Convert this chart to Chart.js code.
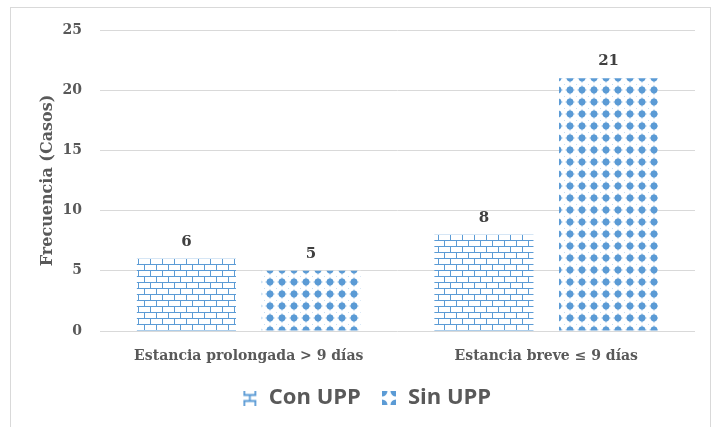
<!DOCTYPE html>
<html><head><meta charset="utf-8">
<script src="https://cdn.jsdelivr.net/npm/chart.js@4"></script>
<style>
html,body{margin:0;padding:0;background:#fff;overflow:hidden}
#frame{position:absolute;left:10px;top:7px;width:701px;height:440px;border:1px solid #d9d9d9;box-sizing:border-box}
#wrap{position:absolute;left:0;top:0;width:715px;height:427px}
</style></head><body>
<div id="frame"></div>
<div id="wrap"><canvas id="c" width="715" height="427"></canvas></div>
<script>
const categories = ["Estancia prolongada > 9 días", "Estancia breve ≤ 9 días"];
const seriesNames = ["Con UPP", "Sin UPP"];
const conUPP = [6, 8];
const sinUPP = [5, 21];
const yTicks = [0, 5, 10, 15, 20, 25];

const BLUE = '#5b9bd5';
function brickTile(){
  const c = document.createElement('canvas'); c.width = 12; c.height = 12;
  const g = c.getContext('2d');
  g.fillStyle = '#fff'; g.fillRect(0,0,12,12);
  g.strokeStyle = BLUE; g.lineWidth = 1;
  g.beginPath();
  g.moveTo(0,0.5); g.lineTo(12,0.5);
  g.moveTo(0,6.5); g.lineTo(12,6.5);
  g.moveTo(0.5,0); g.lineTo(0.5,6);
  g.moveTo(6.5,6); g.lineTo(6.5,12);
  g.stroke();
  return c;
}
function dotTile(){
  const c = document.createElement('canvas'); c.width = 12; c.height = 12;
  const g = c.getContext('2d');
  g.fillStyle = '#fff'; g.fillRect(0,0,12,12);
  g.fillStyle = BLUE;
  g.beginPath(); g.arc(6,6,3.4,0,Math.PI*2); g.fill();
  g.beginPath(); g.moveTo(6,0.8); g.lineTo(7.3,6); g.lineTo(6,11.2); g.lineTo(4.7,6); g.closePath(); g.fill();
  g.beginPath(); g.moveTo(0.8,6); g.lineTo(6,7.3); g.lineTo(11.2,6); g.lineTo(6,4.7); g.closePath(); g.fill();
  g.globalAlpha = 0.35;
  g.fillRect(0,0,1,1);
  return c;
}
const ctx = document.getElementById('c').getContext('2d');
const brickPat = ctx.createPattern(brickTile(), 'repeat');
const dotPat = ctx.createPattern(dotTile(), 'repeat');

function conIcon(){
  const c = document.createElement('canvas'); c.width = 15; c.height = 15;
  const g = c.getContext('2d');
  g.strokeStyle = BLUE; g.lineWidth = 1.8;
  g.beginPath();
  g.moveTo(1,4.5); g.lineTo(14,4.5);
  g.moveTo(1,10.5); g.lineTo(14,10.5);
  g.moveTo(2,0); g.lineTo(2,4.5);
  g.moveTo(13,0); g.lineTo(13,4.5);
  g.moveTo(7.5,4.5); g.lineTo(7.5,10.5);
  g.moveTo(2,10.5); g.lineTo(2,15);
  g.moveTo(13,10.5); g.lineTo(13,15);
  g.stroke();
  return c;
}
function sinIcon(){
  const c = document.createElement('canvas'); c.width = 14; c.height = 14;
  const g = c.getContext('2d');
  g.fillStyle = BLUE;
  [[0,0],[14,0],[0,14],[14,14]].forEach(([x,y])=>{ g.beginPath(); g.arc(x,y,5.5,0,Math.PI*2); g.fill(); });
  return c;
}
const icons = [conIcon(), sinIcon()];

const valueLabels = {
  id: 'valueLabels',
  afterDatasetsDraw(chart){
    const g = chart.ctx;
    g.save();
    g.font = 'bold 15px "DejaVu Serif"';
    g.fillStyle = '#404040';
    g.textAlign = 'center';
    g.textBaseline = 'middle';
    chart.data.datasets.forEach((ds, i) => {
      chart.getDatasetMeta(i).data.forEach((el, j) => {
        g.fillText(String(ds.data[j]), el.x, el.y - 17);
      });
    });
    g.restore();
  }
};

const serif = '"DejaVu Serif"';
new Chart(ctx, {
  type: 'bar',
  data: {
    labels: categories,
    datasets: [
      { label: seriesNames[0], data: conUPP, backgroundColor: brickPat, borderWidth: 0 },
      { label: seriesNames[1], data: sinUPP, backgroundColor: dotPat, borderWidth: 0 }
    ]
  },
  options: {
    responsive: false,
    devicePixelRatio: 1,
    animation: false,
    categoryPercentage: 0.838,
    barPercentage: 0.795,
    layout: { padding: { left: 38, right: 20, top: 30, bottom: 8 } },
    scales: {
      x: {
        grid: { display: false },
        border: { display: false },
        ticks: { color: '#595959', font: { family: serif, weight: 'bold', size: 14 }, padding: 9 },
        afterFit(s){ s.height = 36; }
      },
      y: {
        min: 0, max: 25,
        afterBuildTicks(s){ s.ticks = yTicks.map(v => ({ value: v })); },
        grid: { color: '#d9d9d9', drawTicks: false, lineWidth: 1 },
        border: { display: false },
        ticks: { color: '#595959', font: { family: serif, weight: 'bold', size: 14 }, padding: 18 },
        title: { display: true, text: 'Frecuencia (Casos)', color: '#595959', font: { family: serif, weight: 'bold', size: 16 }, padding: 0 },
        afterFit(s){ s.width = 62; }
      }
    },
    plugins: {
      legend: {
        position: 'bottom',
        labels: {
          usePointStyle: true,
          pointStyleWidth: 16,
          color: '#595959',
          font: { family: '"Open Sans"', weight: 'bold', size: 22 },
          padding: 20,
          generateLabels(chart){
            return chart.data.datasets.map((ds, i) => ({
              text: ds.label, pointStyle: icons[i], fillStyle: BLUE, strokeStyle: BLUE,
              lineWidth: 0, hidden: false, datasetIndex: i, fontColor: '#595959'
            }));
          }
        }
      },
      tooltip: { enabled: false }
    }
  },
  plugins: [valueLabels]
});
</script>
</body></html>
